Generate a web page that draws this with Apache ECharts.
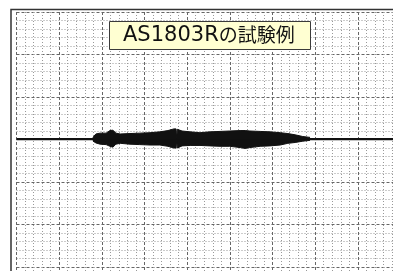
<!DOCTYPE html>
<html>
<head>
<meta charset="utf-8">
<script src="https://cdn.jsdelivr.net/npm/echarts@6/dist/echarts.min.js"></script>
<style>
html,body{margin:0;padding:0;background:#fff;}
#chart{width:393px;height:271px;}
</style>
</head>
<body>
<div id="chart"></div>
<script>
// Title text
var titleLatin = 'AS1803R';
var titleJa = 'の試験例';

// Axis ranges (grid divisions)
var xMin = 0, xMax = 9, xInterval = 1;
var yMin = -4, yMax = 3, yInterval = 1;

// Baseline trace (divisions)
var baseX = [0, 9];
var baseY = [0.01, 0.01];

// Burst envelope: x position (divisions), upper and lower envelope (divisions)
var envX =   [1.79, 1.86, 1.96, 2.10, 2.19, 2.26, 2.33, 2.43, 2.66, 2.89, 3.13, 3.36, 3.55, 3.69, 3.74, 3.755, 3.77, 3.88, 4.07, 4.30, 4.53, 4.77, 5.00, 5.24, 5.36, 5.47, 5.71, 5.94, 6.18, 6.36, 6.53, 6.71, 6.88];
var envTop = [0.047, 0.13, 0.15, 0.15, 0.21, 0.22, 0.15, 0.13, 0.14, 0.15, 0.16, 0.18, 0.21, 0.25, 0.25, 0.02, 0.24, 0.20, 0.18, 0.16, 0.18, 0.19, 0.20, 0.21, 0.21, 0.20, 0.19, 0.18, 0.16, 0.14, 0.11, 0.07, 0.05];
var envBot = [-0.035, -0.08, -0.11, -0.12, -0.16, -0.18, -0.11, -0.09, -0.11, -0.12, -0.13, -0.13, -0.16, -0.20, -0.20, -0.02, -0.20, -0.15, -0.14, -0.14, -0.15, -0.16, -0.16, -0.19, -0.21, -0.19, -0.16, -0.15, -0.13, -0.09, -0.07, -0.04, -0.02];

function zip(a, b) { return a.map(function (v, i) { return [v, b[i]]; }); }

var chart = echarts.init(document.getElementById('chart'), null, {renderer: 'canvas'});
var option = {
  animation: false,
  backgroundColor: '#ffffff',
  title: {
    text: '{a|' + titleLatin + '}{b|' + titleJa + '}',
    left: 109,
    top: 20,
    backgroundColor: '#ffffd2',
    borderColor: '#3a3a3a',
    borderWidth: 1,
    padding: [4, 16, 2, 14],
    textStyle: {
      fontWeight: 'normal',
      rich: {
        a: {fontFamily: 'DejaVu Sans', fontSize: 21, fontWeight: 'normal', color: '#111', lineHeight: 24, verticalAlign: 'bottom', padding: [0, 0, 2, 0]},
        b: {fontFamily: 'Noto Sans CJK JP', fontSize: 19, fontWeight: 'normal', color: '#111', lineHeight: 24, verticalAlign: 'bottom', padding: [0, 0, 4, 0]}
      }
    }
  },
  graphic: [
    {
      type: 'polyline',
      silent: true,
      z: 50,
      shape: {points: [[11, 275], [11, 9.5], [400, 9.5]]},
      style: {stroke: '#333', lineWidth: 1.5, fill: null}
    }
  ],
  grid: {left: 16.5, top: 12, width: 384, height: 297.5, show: false, outerBoundsMode: 'none', containLabel: false},
  xAxis: {
    type: 'value', min: xMin, max: xMax, interval: xInterval,
    axisLine: {show: false}, axisTick: {show: false}, axisLabel: {show: false},
    splitLine: {show: true, lineStyle: {color: '#666', width: 1, type: [3, 2]}},
    minorTick: {show: false, splitNumber: 5},
    minorSplitLine: {show: true, lineStyle: {color: '#999', width: 1, type: [1, 2]}}
  },
  yAxis: {
    type: 'value', min: yMin, max: yMax, interval: yInterval,
    axisLine: {show: false}, axisTick: {show: false}, axisLabel: {show: false},
    splitLine: {show: true, lineStyle: {color: '#666', width: 1, type: [3, 2]}},
    minorTick: {show: false, splitNumber: 5},
    minorSplitLine: {show: true, lineStyle: {color: '#999', width: 1, type: [1, 2]}}
  },
  series: [
    {
      type: 'line', data: zip(baseX, baseY), symbol: 'none', z: 3,
      lineStyle: {color: '#111', width: 2.2}
    },
    {
      type: 'line', data: zip(envX, envTop), symbol: 'none', z: 4,
      lineStyle: {color: '#111', width: 1},
      areaStyle: {color: '#111', opacity: 1, origin: 0}
    },
    {
      type: 'line', data: zip(envX, envBot), symbol: 'none', z: 4,
      lineStyle: {color: '#111', width: 1},
      areaStyle: {color: '#111', opacity: 1, origin: 0}
    }
  ]
};
chart.setOption(option);
</script>
</body>
</html>
